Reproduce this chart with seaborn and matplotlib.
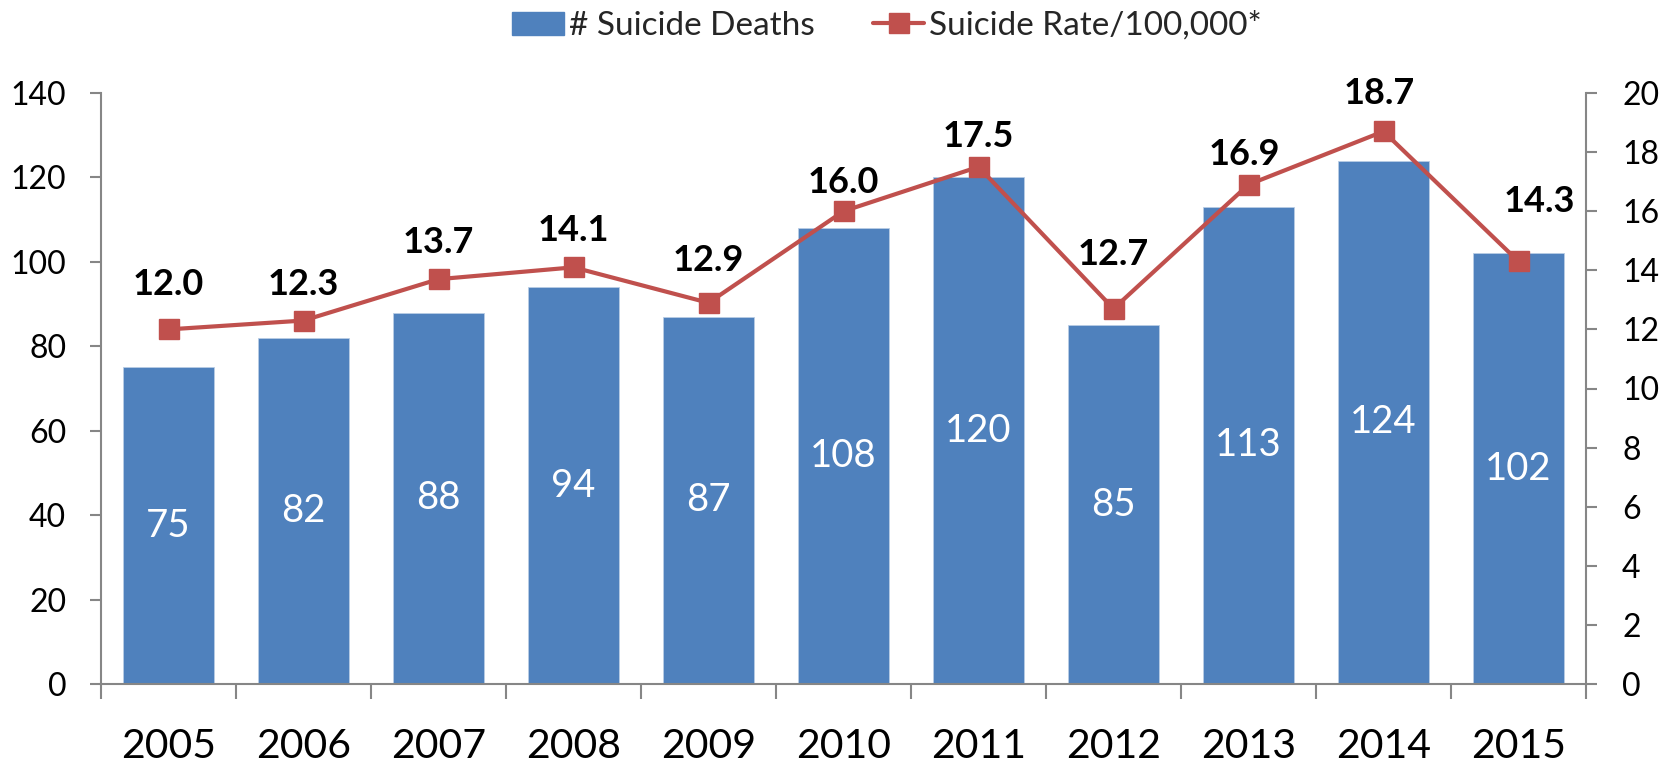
import matplotlib
matplotlib.use("Agg")
import matplotlib.pyplot as plt
import seaborn as sns
import numpy as np
import pandas as pd
from matplotlib.patches import Patch
from matplotlib.lines import Line2D

years = ["2005", "2006", "2007", "2008", "2009", "2010", "2011", "2012", "2013", "2014", "2015"]
deaths = [75, 82, 88, 94, 87, 108, 120, 85, 113, 124, 102]
rates = [12.0, 12.3, 13.7, 14.1, 12.9, 16.0, 17.5, 12.7, 16.9, 18.7, 14.3]
left_ticks = [0, 20, 40, 60, 80, 100, 120, 140]
right_ticks = [0, 2, 4, 6, 8, 10, 12, 14, 16, 18, 20]

# label placement (styling): offsets in points of each rate label from its marker
label_dx = [0, 0, 0, 0, 0, 0, 0, 0, -3, -3, 15]
label_dy = [24.5, 18.7, 18.7, 18.7, 23, 13, 14.4, 31.7, 14.4, 19.4, 35.3]

BAR = "#4F81BD"
LINE = "#C0504D"
AXC = "#868686"

sns.set_theme(style="white")
plt.rcParams["font.family"] = ["Lato", "DejaVu Sans"]

fig = plt.figure(figsize=(16.63, 7.67), dpi=100)
ax = fig.add_axes([101 / 1663, 1 - 684 / 767, (1586 - 101) / 1663, (684 - 93) / 767])

df = pd.DataFrame({"year": years, "deaths": deaths})
sns.barplot(data=df, x="year", y="deaths", ax=ax, color=BAR, saturation=1,
            width=0.667, edgecolor="#B9CDE5", linewidth=0.6)
ax.set_xlim(-0.5, len(years) - 0.5)
ax.set_ylim(0, 140)
ax.set_yticks(left_ticks)
ax.set_xlabel("")
ax.set_ylabel("")

for i, v in enumerate(deaths):
    ax.text(i, v / 2, str(v), ha="center", va="center", color="white", fontsize=27.5)

ax2 = ax.twinx()
ax2.plot(np.arange(len(years)), rates, color=LINE, lw=3, marker="s", markersize=14,
         markerfacecolor=LINE, markeredgecolor=LINE)
ax2.set_ylim(0, 20)
ax2.set_yticks(right_ticks)
for i, r in enumerate(rates):
    ax2.annotate(f"{r:.1f}", (i, r), xytext=(label_dx[i], label_dy[i]), textcoords="offset points",
                 ha="center", va="baseline", fontsize=26, fontweight="bold", color="black")

for a in (ax, ax2):
    for s in a.spines.values():
        s.set_visible(False)
ax.spines["left"].set_visible(True)
ax.spines["bottom"].set_visible(True)
ax2.spines["right"].set_visible(True)
for s in (ax.spines["left"], ax.spines["bottom"], ax2.spines["right"]):
    s.set_color(AXC)
    s.set_linewidth(1.5)

# x tick labels at centers, tick marks at boundaries
ax.set_xticks(np.arange(len(years)))
ax.set_xticklabels(years)
ax.set_xticks(np.arange(-0.5, len(years)), minor=True)
ax.tick_params(axis="x", which="major", length=0, pad=32, labelsize=29.5, colors="black")
ax.tick_params(axis="x", which="minor", length=11, width=1.5, color=AXC, direction="out", bottom=True)
ax.tick_params(axis="y", which="major", length=8, width=1.5, color=AXC, direction="out",
               left=True, pad=17, labelsize=23, labelcolor="black")
ax2.tick_params(axis="y", which="major", length=8, width=1.5, color=AXC, direction="out",
                right=True, pad=18, labelsize=23, labelcolor="black")

handles = [Patch(facecolor=BAR, edgecolor=BAR),
           Line2D([0], [0], color=LINE, lw=3, marker="s", markersize=15)]
fig.legend(handles, ["# Suicide Deaths", "Suicide Rate/100,000*"], loc="center",
           bbox_to_anchor=(887 / 1663, 1 - 26 / 767), ncol=2, frameon=False, fontsize=24,
           handlelength=1.55, handletextpad=0.15, columnspacing=1.75, borderaxespad=0)

fig.savefig("out.png", dpi=100)
